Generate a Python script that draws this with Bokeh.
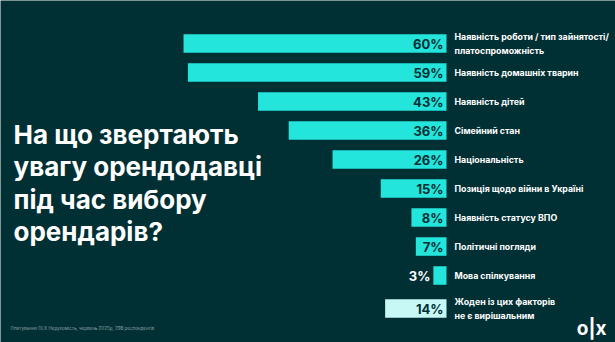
from bokeh.plotting import figure
from bokeh.models import Range1d, Label, ColumnDataSource
from bokeh.core.properties import value
from bokeh.embed import file_html
from bokeh.resources import INLINE

categories = [
    "Наявність роботи / тип зайнятості/\nплатоспроможність",
    "Наявність домашніх тварин",
    "Наявність дітей",
    "Сімейний стан",
    "Національність",
    "Позиція щодо війни в Україні",
    "Наявність статусу ВПО",
    "Політичні погляди",
    "Мова спілкування",
    "Жоден із цих факторів\nне є вирішальним",
]
values = [60, 59, 43, 36, 26, 15, 8, 7, 3, 14]
title_lines = ["На що звертають", "увагу орендодавці", "під час вибору", "орендарів?"]
footnote = "Опитування OLX Нерухомість, червень 2025р, 298 респондентів"

BG = "#002f34"
CYAN = "#23e5db"
PALE = "#c8f8f6"
FONT = "Inter"

n = len(values)
ypos = [i if i < n - 1 else i + 0.14 for i in range(n)]
bar_colors = [CYAN] * (n - 1) + [PALE]
pct_text = [f"{v}%" for v in values]
pct_x = [0 if v >= 5 else v for v in values]
pct_color = [BG if v >= 5 else "#ffffff" for v in values]

src = ColumnDataSource(dict(cat=categories, val=values, y=ypos, color=bar_colors,
                            pct=pct_text, px=pct_x, pcolor=pct_color,
                            zero=[0] * n))

p = figure(width=615, height=342, output_backend="svg", toolbar_location=None,
           x_range=Range1d(101.76, -38.56), y_range=Range1d(10.31, -1.483),
           min_border=0, min_border_left=0, min_border_right=0,
           min_border_top=0, min_border_bottom=0,
           background_fill_color=BG, border_fill_color=BG, outline_line_color=None)
p.axis.visible = False
p.grid.visible = False

p.hbar(y="y", left="zero", right="val", height=0.64, color="color", line_color=None, source=src)

p.text(x="px", y="y", text="pct", source=src, x_offset=-3, text_align="right",
       text_baseline="middle", text_color="pcolor", text_font=value(FONT),
       text_font_style="bold", text_font_size="13px")

p.text(x="zero", y="y", text="cat", source=src, x_offset=8, text_align="left",
       text_baseline="middle", text_color="#ffffff", text_font=value(FONT),
       text_font_style="bold", text_font_size="8.8px", text_line_height=1.2)

for i, line in enumerate(title_lines):
    p.add_layout(Label(x=13, y=342 - 134 - i * 32.3, x_units="screen", y_units="screen",
                       text=line, text_color="#ffffff", text_font=FONT,
                       text_font_style="bold", text_font_size="26px",
                       text_baseline="alphabetic"))

p.add_layout(Label(x=10, y=14, x_units="screen", y_units="screen", text=footnote,
                   text_color="#8fa3a5", text_font=FONT, text_font_size="4.5px",
                   text_baseline="middle"))

p.add_layout(Label(x=606, y=14, x_units="screen", y_units="screen", text="o|x",
                   text_color="#ffffff", text_font=FONT, text_font_style="bold",
                   text_font_size="19px", text_align="right", text_baseline="middle"))

open("out.html", "w").write(file_html(p, INLINE))
